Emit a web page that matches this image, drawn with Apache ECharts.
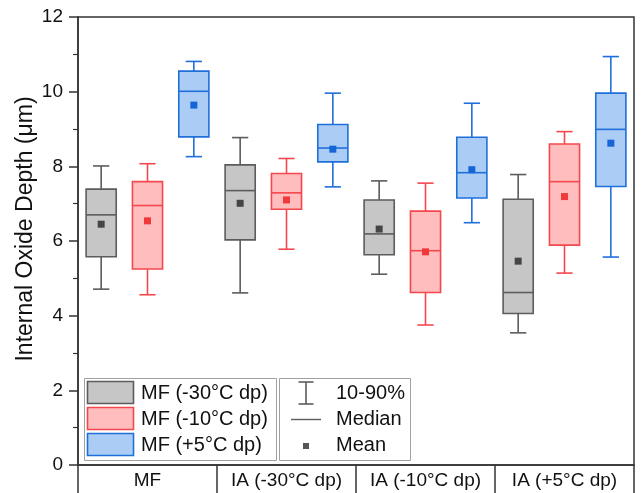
<!DOCTYPE html>
<html>
<head>
<meta charset="utf-8">
<script src="https://cdn.jsdelivr.net/npm/echarts@6/dist/echarts.min.js"></script>
<style>
  html, body { margin: 0; padding: 0; background: #fff; }
  #chart { width: 642px; height: 493px; }
</style>
</head>
<body>
<div id="chart"></div>
<script>
// Process groups along the bottom axis
const groups = ['MF', 'IA (-30°C dp)', 'IA (-10°C dp)', 'IA (+5°C dp)'];
// Dew-point conditions, one box per condition inside each group
const conditions = ['MF (-30°C dp)', 'MF (-10°C dp)', 'MF (+5°C dp)'];
const yTicks = [0, 2, 4, 6, 8, 10, 12];

// Per group: [10th pct, Q1, median, Q3, 90th pct] in µm
const statsM30 = [
  [4.71, 5.58, 6.70, 7.39, 8.01],
  [4.61, 6.03, 7.35, 8.04, 8.77],
  [5.11, 5.63, 6.19, 7.10, 7.61],
  [3.54, 4.06, 4.62, 7.12, 7.78]
];
const statsM10 = [
  [4.56, 5.25, 6.95, 7.59, 8.07],
  [5.78, 6.85, 7.29, 7.81, 8.21],
  [3.75, 4.62, 5.74, 6.80, 7.55],
  [5.14, 5.89, 7.59, 8.60, 8.93]
];
const statsP5 = [
  [8.26, 8.79, 10.01, 10.55, 10.81],
  [7.45, 8.12, 8.49, 9.12, 9.96],
  [6.49, 7.15, 7.83, 8.78, 9.69],
  [5.57, 7.46, 8.99, 9.96, 10.94]
];
// Mean values per group
const meanM30 = [6.45, 7.01, 6.32, 5.46];
const meanM10 = [6.54, 7.10, 5.71, 7.19];
const meanP5 = [9.64, 8.46, 7.91, 8.62];

const palette = [
  { fill: '#c6c6c6', stroke: '#5c5c5c', mean: '#454545' },
  { fill: '#ffbdbd', stroke: '#f4484e', mean: '#f03a3a' },
  { fill: '#abcdf5', stroke: '#1f6fdb', mean: '#1565d6' }
];

const FONT = '"Liberation Sans", Arial, sans-serif';

function toRows(stats, means, offset) {
  return stats.map((s, i) => [i * 3 + offset, s[0], s[1], s[2], s[3], s[4], means[i]]);
}

function boxRenderer(col) {
  return function (params, api) {
    const x = api.value(0);
    const lo = api.coord([x, api.value(1)]);
    const q1 = api.coord([x, api.value(2)]);
    const med = api.coord([x, api.value(3)]);
    const q3 = api.coord([x, api.value(4)]);
    const hi = api.coord([x, api.value(5)]);
    const mean = api.coord([x, api.value(6)]);
    const slot = api.size([1, 0])[0];
    const bw = slot * 0.65;
    const cw = slot * 0.35;
    const cx = lo[0];
    const lw = 1.6;
    const ls = { stroke: col.stroke, lineWidth: lw };
    const ms = 7;
    return {
      type: 'group',
      children: [
        { type: 'line', shape: { x1: cx, y1: hi[1], x2: cx, y2: q3[1] }, style: ls },
        { type: 'line', shape: { x1: cx, y1: q1[1], x2: cx, y2: lo[1] }, style: ls },
        { type: 'line', shape: { x1: cx - cw / 2, y1: hi[1], x2: cx + cw / 2, y2: hi[1] }, style: ls },
        { type: 'line', shape: { x1: cx - cw / 2, y1: lo[1], x2: cx + cw / 2, y2: lo[1] }, style: ls },
        { type: 'rect', shape: { x: cx - bw / 2, y: q3[1], width: bw, height: q1[1] - q3[1] },
          style: { fill: col.fill, stroke: col.stroke, lineWidth: lw } },
        { type: 'line', shape: { x1: cx - bw / 2, y1: med[1], x2: cx + bw / 2, y2: med[1] }, style: ls },
        { type: 'rect', shape: { x: cx - ms / 2, y: mean[1] - ms / 2, width: ms, height: ms },
          style: { fill: col.mean } }
      ]
    };
  };
}

const seriesStats = [statsM30, statsM10, statsP5];
const seriesMeans = [meanM30, meanM10, meanP5];

const series = conditions.map((name, k) => ({
  name: name,
  type: 'custom',
  xAxisIndex: 0,
  yAxisIndex: 0,
  renderItem: boxRenderer(palette[k]),
  encode: { x: 0, y: [1, 2, 3, 4, 5, 6] },
  data: toRows(seriesStats[k], seriesMeans[k], k),
  z: 3
}));

// Legend panels drawn as graphic elements
const legendGraphics = [];
const lgTop = 378, lgBottom = 460;
legendGraphics.push({
  type: 'rect', shape: { x: 84.5, y: lgTop + 0.5, width: 192, height: lgBottom - lgTop },
  style: { fill: '#fff', stroke: '#a0a0a0', lineWidth: 1 }, z: 10
});
legendGraphics.push({
  type: 'rect', shape: { x: 279.5, y: lgTop + 0.5, width: 131, height: lgBottom - lgTop },
  style: { fill: '#fff', stroke: '#a0a0a0', lineWidth: 1 }, z: 10
});
conditions.forEach((name, k) => {
  const y = 381.5 + k * 26;
  legendGraphics.push({
    type: 'rect', shape: { x: 87.5, y: y, width: 46, height: 22 },
    style: { fill: palette[k].fill, stroke: palette[k].stroke, lineWidth: 1.6 }, z: 11
  });
  legendGraphics.push({
    type: 'text', x: 141, y: y + 12,
    style: { text: name, font: '20px ' + FONT, fill: '#111', verticalAlign: 'middle' }, z: 11
  });
});
// whisker icon
legendGraphics.push({ type: 'line', shape: { x1: 306, y1: 382, x2: 306, y2: 404 }, style: { stroke: '#5c5c5c', lineWidth: 1.6 }, z: 11 });
legendGraphics.push({ type: 'line', shape: { x1: 298.5, y1: 382, x2: 313.5, y2: 382 }, style: { stroke: '#5c5c5c', lineWidth: 1.6 }, z: 11 });
legendGraphics.push({ type: 'line', shape: { x1: 298.5, y1: 404, x2: 313.5, y2: 404 }, style: { stroke: '#5c5c5c', lineWidth: 1.6 }, z: 11 });
// median icon
legendGraphics.push({ type: 'line', shape: { x1: 291, y1: 419.5, x2: 321, y2: 419.5 }, style: { stroke: '#5c5c5c', lineWidth: 1.4 }, z: 11 });
// mean icon
legendGraphics.push({ type: 'rect', shape: { x: 303, y: 443, width: 6, height: 6 }, style: { fill: '#555' }, z: 11 });
['10-90%', 'Median', 'Mean'].forEach((t, i) => {
  legendGraphics.push({
    type: 'text', x: 336, y: 393.5 + i * 26,
    style: { text: t, font: '20px ' + FONT, fill: '#111', verticalAlign: 'middle' }, z: 11
  });
});
// y-axis title
legendGraphics.push({
  type: 'text', x: 26, y: 229, rotation: Math.PI / 2,
  style: { text: 'Internal Oxide Depth (μm)', font: '23px ' + FONT, fill: '#111', align: 'center', verticalAlign: 'middle' }
});

const chart = echarts.init(document.getElementById('chart'), null, { renderer: 'canvas' });
chart.setOption({
  animation: false,
  backgroundColor: '#fff',
  grid: {
    left: 78, right: 8, top: 17, bottom: 28,
    show: true, borderColor: '#333', borderWidth: 1.5, backgroundColor: 'transparent'
  },
  xAxis: [
    {
      type: 'value', min: -0.5, max: 11.5, show: false
    },
    {
      type: 'category', data: groups, position: 'bottom',
      axisLine: { show: true, lineStyle: { color: '#333', width: 1.5 } },
      axisTick: { show: true, interval: 0, alignWithLabel: false, length: 28, lineStyle: { color: '#333', width: 1.5 } },
      axisLabel: { interval: 0, hideOverlap: false, margin: 6, fontSize: 19, fontFamily: FONT, color: '#111' },
      splitLine: { show: false }
    }
  ],
  yAxis: {
    type: 'value', min: 0, max: 12, interval: 2,
    axisLine: { show: true, onZero: false, lineStyle: { color: '#333', width: 1.5 } },
    axisTick: { show: true, length: 9, lineStyle: { color: '#333', width: 1.5 } },
    minorTick: { show: true, splitNumber: 2, length: 5, lineStyle: { color: '#333', width: 1.2 } },
    axisLabel: { margin: 15, fontSize: 19, fontFamily: FONT, color: '#111',
      formatter: v => (yTicks.indexOf(v) >= 0 ? String(v) : '') },
    splitLine: { show: false }
  },
  series: series,
  graphic: legendGraphics
});
</script>
</body>
</html>
